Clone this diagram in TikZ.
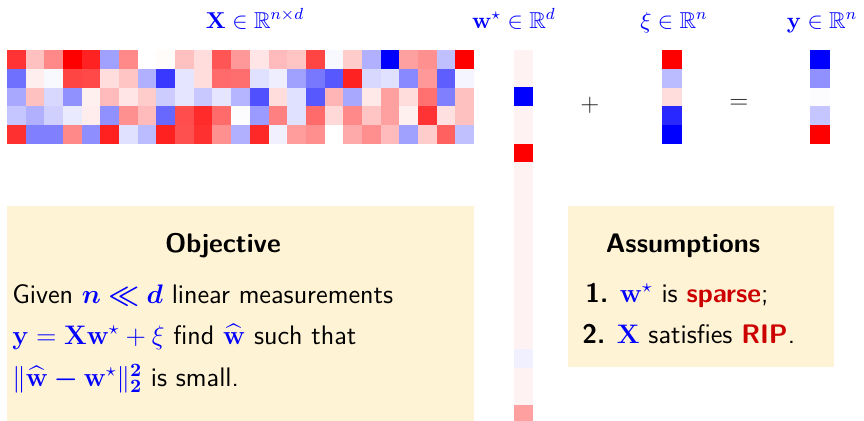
\RequirePackage{fix-cm}
\documentclass[tikz,border=0pt]{standalone}
\usepackage{amsmath,amssymb,bm}
\renewcommand{\familydefault}{\sfdefault}
\definecolor{boxfill}{HTML}{FFF3D5}
\definecolor{mblue}{HTML}{0000FF}
\definecolor{mred}{HTML}{CC0000}
\definecolor{opgray}{HTML}{222222}
\begin{document}
\begin{tikzpicture}[x=0.5pt,y=-0.5pt,
  txt/.style={inner sep=0pt, font=\fontsize{13.4}{16}\selectfont},
  lbl/.style={inner sep=0pt, text=mblue, font=\fontsize{11.5}{14}\selectfont},
  opsym/.style={inner sep=0pt, text=opgray, font=\fontsize{12.5}{15}\selectfont}]
\useasboundingbox (0,0) rectangle (864,420);
\clip (0,0) rectangle (864,420);
% matrix X (5 x 25)
\foreach \rowlist [count=\r from 0] in {
 {FF3333,FFC0C0,FF8888,FF0000,FF2222,A0A0FF,FF8888,FFFFFF,FFFCFA,FFC0C0,FFDDDD,FF5555,FF9999,FFE5E5,FFBBBB,FFC5C5,FF4444,F8F8FF,FFCCCC,B0B0FF,0000FF,FFA0A0,FF9090,C0C0FF,FF0000},
 {7070FF,FFEEEE,F8F8FF,FF4444,FF4848,FFDDDD,FFC5C5,B0B0FF,3838FF,E5E5FF,FFDDDD,FF6B6B,FF6E6E,E0E0FF,EEEEFF,A0A0FF,7878FF,5858FF,FF2222,D8D8FF,E0E0FF,8888FF,FF9999,5E5EFF,F5F5FF},
 {A8A8FF,FFC0C0,D8D8FF,9090FF,FFF0F0,FFBBBB,FFE5E5,FFCCCC,CCCCFF,E5E5FF,C8C8FF,E5E5FF,B5B5FF,5050FF,FFDDDD,E0E0FF,5858FF,FFB5B5,A8A8FF,FFE8E8,FFA0A0,FFDDDD,FF7070,8080FF,FFC0C0},
 {C5C5FF,B0B0FF,D0D0FF,EAEAFF,FFECEC,9090FF,FF9090,FFBBBB,6868FF,FF4C4C,FF2A2A,FF6B6B,FCFCFF,9A9AFF,FF8080,E0E0FF,FF6B6B,FFD8D8,FF8888,FFC5C5,FFA0A0,FFF0F0,FF3333,FFE0E0,FFC0C0},
 {FF3030,8080FF,8080FF,FF8888,8E8EFF,FF2020,E0E0FF,BBBBFF,FF2020,FF5050,FF3030,FF9090,B0B0FF,FF2828,F0F0FF,FF9C9C,FF8E8E,FFFFFF,FFAAAA,FF8E8E,FFBBBB,A0A0FF,FFCCCC,FF6060,C0C0FF}} {
  \foreach \hx [count=\i from 0] in \rowlist {
    \definecolor{tmpc}{HTML}{\hx}
    \fill[tmpc] ({7+\i*18.68},{50+\r*18.8}) rectangle ++(18.68,18.8);
  }
}
% vector w*
\foreach \hx [count=\i from 0] in {FFF2F2,FFF2F2,0000FF,FFF2F2,FFF2F2,FF0000,FFF2F2,FFF2F2,FFF2F2,FFF2F2,FFF2F2,FFF2F2,FFF2F2,FFF2F2,FFF2F2,FFF2F2,F0F0FF,FFF2F2,FFF2F2,FFA0A0,FFF2F2,FFF2F2} {
  \definecolor{tmpc}{HTML}{\hx}
  \fill[tmpc] (514,{50+\i*18.7}) rectangle ++(19,18.7);
}
% vector xi
\foreach \hx [count=\i from 0] in {FF0000,BBBBFF,FFDDDD,2828FF,0000FF} {
  \definecolor{tmpc}{HTML}{\hx}
  \fill[tmpc] (662,{50+\i*18.8}) rectangle ++(20,18.8);
}
% vector y
\foreach \hx [count=\i from 0] in {0000FF,9090FF,FCFCFF,C5C5FF,FF0000} {
  \definecolor{tmpc}{HTML}{\hx}
  \fill[tmpc] (810,{50+\i*18.8}) rectangle ++(20,18.8);
}
% labels
\node[lbl, anchor=base] (lX) at (255,28) {$\mathbf{X}\in\mathbb{R}^{n\times d}$};
\node[lbl, anchor=base] (lw) at (514,28) {$\mathbf{w}^\star\in\mathbb{R}^d$};
\node[lbl, anchor=base] (lxi) at (674,28) {$\xi\in\mathbb{R}^n$};
\node[lbl, anchor=base] (ly) at (822,28) {$\mathbf{y}\in\mathbb{R}^n$};
\node[opsym] (plus) at (590,105) {$+$};
\node[opsym] (eq) at (739,104) {$=$};
% boxes
\fill[boxfill] (7,206) rectangle (474,440);
\fill[boxfill] (568,206) rectangle (834,367);
% objective
\node[txt, anchor=base] (objt) at (223,252) {\bfseries Objective};
\node[txt, anchor=base west] (o1) at (12,303) {Given $\color{mblue}\boldsymbol{n\ll d}$ linear measurements};
\node[txt, anchor=base west] (o2) at (12,344) {$\color{mblue}\mathbf{y}=\mathbf{X}\mathbf{w}^\star+\xi$ find $\color{mblue}\widehat{\mathbf{w}}$ such that};
\node[txt, anchor=base west] (o3) at (12,386) {$\color{mblue}\|\widehat{\mathbf{w}}\boldsymbol{-}\mathbf{w}^\star\|_{\boldsymbol{2}}^{\boldsymbol{2}}$ is small.};
% assumptions
\node[txt, anchor=base] (ast) at (683,252) {\bfseries Assumptions};
\node[txt, anchor=base west] (a1) at (585,302) {\textbf{1.} $\color{mblue}\mathbf{w}^\star$ is \textcolor{mred}{\textbf{sparse}};};
\node[txt, anchor=base west] (a2) at (582,343) {\textbf{2.} $\color{mblue}\mathbf{X}$ satisfies \textcolor{mred}{\textbf{RIP}}.};
\end{tikzpicture}
\end{document}
